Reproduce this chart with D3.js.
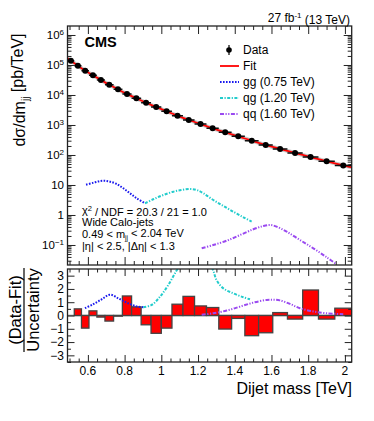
<!DOCTYPE html>
<html><head><meta charset="utf-8">
<script src="https://cdn.jsdelivr.net/npm/d3@7"></script>
<style>
body{margin:0;background:#fff}
svg{display:block}
text{font-family:"Liberation Sans",Arial,Helvetica,sans-serif;fill:#000}
</style>
</head><body>
<svg id="chart" width="374" height="421"></svg>
<script>
// ---------------- DATA ----------------
const binEdges = [0.489,0.526,0.565,0.606,0.649,0.693,0.740,0.788,0.838,0.890,0.944,1.000,1.058,1.118,1.181,1.246,1.313,1.383,1.455,1.530,1.607,1.687,1.770,1.856,1.945,2.037];
const dataValues = [139000,95000,64600,45400,31600,22000,15500,10800,7760,5540,3980,2860,2040,1470,1080,776,571,420,300,215,158,117,86,62,45];
// fit evaluated at the bin edges
const fitValues = [168000,115000,78200,54100,37900,26400,18500,12900,9150,6550,4690,3380,2420,1730,1260,915,665,490,355,254,185,136,100,72.6,52.8,38.9];
// (Data-Fit)/Uncertainty for bins 2..25
const residuals = [0.5,-0.95,0.35,-0.12,-0.42,-0.05,1.47,0.65,-0.7,-1.34,-0.95,0.85,1.44,0.72,0.6,-1.02,-0.22,-1.52,-1.3,0.22,-0.27,1.92,-0.27,0.55];

const ggTopMass = [0.590,0.630,0.667,0.694,0.721,0.757,0.793,0.830,0.866,0.911];
const ggTopValues = [10.2,11.9,13.5,13.8,12.9,10.8,7.76,5.25,3.6,2.45];
const qgTopMass = [0.911,0.956,1.011,1.065,1.111,1.156,1.193,1.229,1.283,1.338,1.392,1.447,1.492];
const qgTopValues = [2.45,3.34,4.64,5.98,6.81,7.36,6.81,5.28,3.16,2.0,1.29,0.84,0.6];
const qqTopMass = [1.220,1.283,1.356,1.429,1.501,1.555,1.592,1.628,1.683,1.755,1.828,1.901,1.955];
const qqTopValues = [0.0776,0.1,0.139,0.215,0.334,0.43,0.464,0.41,0.278,0.147,0.0776,0.0389,0.0227];

const ggRatioMass = [0.584,0.629,0.675,0.720,0.766,0.811,0.857,0.902];
const ggRatioValues = [0.55,0.85,1.22,1.57,1.29,0.97,0.72,0.62];
const qgRatioMass = [0.902,0.948,0.993,1.038,1.084,1.13,1.18,1.23,1.279,1.301,1.338,1.392,1.447,1.483];
const qgRatioValues = [0.62,0.8,1.42,2.29,3.4,4.3,4.7,4.4,3.5,2.66,2.04,1.67,1.37,1.22];
const qqRatioMass = [1.220,1.283,1.356,1.429,1.501,1.574,1.610,1.646,1.701,1.755,1.828,1.901,1.991];
const qqRatioValues = [0.05,0.17,0.37,0.67,0.97,1.17,1.19,1.14,0.87,0.55,0.3,0.17,0.1];

const xTickValues = [0.6,0.8,1.0,1.2,1.4,1.6,1.8,2.0];
const xTickLabels = ["0.6","0.8","1","1.2","1.4","1.6","1.8","2"];
const yTopExponents = [-1,0,1,2,3,4,5,6];
const yBotTicks = [-3,-2,-1,0,1,2,3];

const legendLabels = ["Data","Fit","gg (0.75 TeV)","qg (1.20 TeV)","qq (1.60 TeV)"];

// ---------------- LAYOUT ----------------
const L = 67.5, R = 351.7;
const topT = 26, topB = 265;
const botT = 269, botB = 362;
const col = {gg:"#1a1aee", qg:"#22cccc", qq:"#9a4af0", fit:"#ff0000"};
const dash = {gg:"1.6,1.4", qg:"3,1.5,1.2,1.5", qq:"4,1.5,1.2,1.5,1.2,1.5"};

const svg = d3.select("#chart");
const x = d3.scaleLinear().domain([0.489, 2.037]).range([L, R]);
const yT = d3.scaleLog().domain([Math.pow(10,-1.667), Math.pow(10,6.3)]).range([topB, topT]);
const yB = d3.scaleLinear().domain([-3.5, 3.5]).range([botB, botT]);

svg.append("defs").append("clipPath").attr("id","clipTop")
  .append("rect").attr("x",L).attr("y",topT).attr("width",R-L).attr("height",topB-topT);
svg.select("defs").append("clipPath").attr("id","clipBot")
  .append("rect").attr("x",L).attr("y",botT).attr("width",R-L).attr("height",botB-botT);

// ---------- axes helpers ----------
function xMinor(){ const a=[]; for(let v=0.5; v<=2.03; v+=0.05){ const r=Math.round(v*100)/100; if(!xTickValues.some(t=>Math.abs(t-r)<1e-6)) a.push(r);} return a; }
function logMinor(){ const a=[]; for(let k=-2;k<=6;k++) for(let m=2;m<=9;m++){ const v=m*Math.pow(10,k); if(v>yT.domain()[0] && v<yT.domain()[1]) a.push(v);} return a; }

function drawXTicks(yPos, dir, major, minor){
  const gM = svg.append("g").attr("transform",`translate(0,${yPos})`)
    .call((dir<0?d3.axisBottom(x):d3.axisTop(x)).tickValues(xTickValues).tickSize(-major).tickFormat(""));
  const gm = svg.append("g").attr("transform",`translate(0,${yPos})`)
    .call((dir<0?d3.axisBottom(x):d3.axisTop(x)).tickValues(xMinor()).tickSize(-minor).tickFormat(""));
  [gM,gm].forEach(g=>{g.select(".domain").remove(); g.selectAll("line").attr("stroke","#222").attr("stroke-width",1);});
}
function drawYTicks(xPos, scale, left, majors, minors, majLen, minLen){
  const ax = left ? d3.axisLeft : d3.axisRight;
  const gM = svg.append("g").attr("transform",`translate(${xPos},0)`)
    .call(ax(scale).tickValues(majors).tickSize(-majLen).tickFormat(""));
  const gm = svg.append("g").attr("transform",`translate(${xPos},0)`)
    .call(ax(scale).tickValues(minors).tickSize(-minLen).tickFormat(""));
  [gM,gm].forEach(g=>{g.select(".domain").remove(); g.selectAll("line").attr("stroke","#222").attr("stroke-width",1);});
  return gM;
}

// ---------------- TOP PANEL ----------------
const topMajors = yTopExponents.map(e=>Math.pow(10,e));
drawYTicks(L, yT, true, topMajors, logMinor(), 8, 4);
drawYTicks(R, yT, false, topMajors, logMinor(), 8, 4);
drawXTicks(topT, 1, 8, 4);
drawXTicks(topB, -1, 8, 4);

yTopExponents.forEach(e=>{
  const t = svg.append("text").attr("x", 64).attr("y", yT(Math.pow(10,e))).attr("dy","0.36em")
    .attr("text-anchor","end").style("font-size","11.5px");
  if(e===0) t.text("1");
  else if(e===1) t.text("10");
  else { t.append("tspan").text("10"); t.append("tspan").attr("dy","-0.55em").style("font-size","8px").text(e<0?"\u2212"+(-e):String(e)); }
});

const gTop = svg.append("g").attr("clip-path","url(#clipTop)");
gTop.append("path").datum(binEdges.map((m,i)=>[m,fitValues[i]]))
  .attr("fill","none").attr("stroke","#bbb").attr("stroke-width",4).attr("opacity",0.8)
  .attr("d", d3.line().x(d=>x(d[0])).y(d=>yT(d[1])).curve(d3.curveMonotoneX));
gTop.append("path").datum(binEdges.map((m,i)=>[m,fitValues[i]]))
  .attr("fill","none").attr("stroke",col.fit).attr("stroke-width",1.8)
  .attr("d", d3.line().x(d=>x(d[0])).y(d=>yT(d[1])).curve(d3.curveMonotoneX));

function sigLine(g, mass, vals, ys, c, da){
  g.append("path").datum(mass.map((m,i)=>[m,vals[i]]))
    .attr("fill","none").attr("stroke",c).attr("stroke-width",2).attr("stroke-dasharray",da)
    .attr("d", d3.line().x(d=>x(d[0])).y(d=>ys(d[1])).curve(d3.curveCatmullRom));
}
sigLine(gTop, ggTopMass, ggTopValues, yT, col.gg, dash.gg);
sigLine(gTop, qgTopMass, qgTopValues, yT, col.qg, dash.qg);
sigLine(gTop, qqTopMass, qqTopValues, yT, col.qq, dash.qq);

const centers = dataValues.map((v,i)=>({lo:binEdges[i],hi:binEdges[i+1],c:(binEdges[i]+binEdges[i+1])/2,v}));
gTop.selectAll(".hbar").data(centers).enter().append("line")
  .attr("x1",d=>x(d.lo)).attr("x2",d=>x(d.hi)).attr("y1",d=>yT(d.v)).attr("y2",d=>yT(d.v))
  .attr("stroke","#111").attr("stroke-width",1.5);
gTop.selectAll(".pt").data(centers).enter().append("circle")
  .attr("cx",d=>x(d.c)).attr("cy",d=>yT(d.v)).attr("r",3).attr("fill","#000");

svg.append("rect").attr("x",L).attr("y",topT).attr("width",R-L).attr("height",topB-topT)
  .attr("fill","none").attr("stroke","#222").attr("stroke-width",1.3);

svg.append("text").attr("x",350).attr("y",21.5).attr("text-anchor","end").style("font-size","12px")
  .call(t=>{t.append("tspan").text("27 fb"); t.append("tspan").attr("dy","-0.5em").style("font-size","8px").text("-1");
           t.append("tspan").attr("dy","0.5em").text(" (13 TeV)");});
svg.append("text").attr("x",84.5).attr("y",46.5).style("font-size","14.5px").style("font-weight","bold").text("CMS");

const legY = [50,66,82,98,114];
svg.append("line").attr("x1",229).attr("x2",229).attr("y1",legY[0]-5).attr("y2",legY[0]+5).attr("stroke","#000").attr("stroke-width",1.2);
svg.append("circle").attr("cx",229).attr("cy",legY[0]).attr("r",2.8).attr("fill","#000");
svg.append("line").attr("x1",220).attr("x2",239).attr("y1",legY[1]).attr("y2",legY[1]).attr("stroke",col.fit).attr("stroke-width",1.8);
[["gg",2],["qg",3],["qq",4]].forEach(([k,i])=>{
  svg.append("line").attr("x1",220).attr("x2",239).attr("y1",legY[i]).attr("y2",legY[i])
    .attr("stroke",col[k]).attr("stroke-width",2).attr("stroke-dasharray",dash[k]);
});
legendLabels.forEach((s,i)=>{
  svg.append("text").attr("x",243).attr("y",legY[i]).attr("dy","0.36em").style("font-size","12px").text(s);
});

const annY = [210.5,222.5,234.5,246.5];
svg.append("text").attr("x",82).attr("y",annY[0]).attr("dy","0.36em").style("font-size","11px")
  .call(t=>{t.append("tspan").text("\u03C7"); t.append("tspan").attr("dy","-0.45em").style("font-size","7.5px").text("2");
           t.append("tspan").attr("dy","0.45em").text(" / NDF = 20.3 / 21 = 1.0");});
svg.append("text").attr("x",82).attr("y",annY[1]).attr("dy","0.36em").style("font-size","11px").text("Wide Calo-jets");
svg.append("text").attr("x",82).attr("y",annY[2]).attr("dy","0.36em").style("font-size","11px")
  .call(t=>{t.append("tspan").text("0.49 < m"); t.append("tspan").attr("dy","0.3em").style("font-size","6.5px").text("jj");
           t.append("tspan").attr("dy","-0.3em").text(" < 2.04 TeV");});
svg.append("text").attr("x",82).attr("y",annY[3]).attr("dy","0.36em").style("font-size","11px").text("|\u03B7| < 2.5, |\u0394\u03B7| < 1.3");

svg.append("text").attr("transform","translate(25,90) rotate(-90)").attr("text-anchor","middle").style("font-size","16px")
  .call(t=>{t.append("tspan").text("d\u03C3/dm"); t.append("tspan").attr("dy","0.4em").style("font-size","10px").text("jj");
           t.append("tspan").attr("dy","-0.4em").text(" [pb/TeV]");});

// ---------------- BOTTOM PANEL ----------------
const gBot = svg.append("g").attr("clip-path","url(#clipBot)");
gBot.append("line").attr("x1",L).attr("x2",R).attr("y1",yB(0)).attr("y2",yB(0)).attr("stroke","#888").attr("stroke-width",1.5);
const resBins = residuals.map((v,i)=>({lo:binEdges[i+1],hi:binEdges[i+2],v}));
gBot.selectAll(".rb").data(resBins).enter().append("rect")
  .attr("x",d=>x(d.lo)).attr("width",d=>x(d.hi)-x(d.lo))
  .attr("y",d=>yB(Math.max(0,d.v))).attr("height",d=>Math.abs(yB(d.v)-yB(0)))
  .attr("fill","#ff0000").attr("stroke","#444").attr("stroke-width",1.3);
sigLine(gBot, ggRatioMass, ggRatioValues, yB, col.gg, dash.gg);
sigLine(gBot, qgRatioMass, qgRatioValues, yB, col.qg, dash.qg);
sigLine(gBot, qqRatioMass, qqRatioValues, yB, col.qq, dash.qq);

const botMinor = [-3.5,-2.5,-1.5,-0.5,0.5,1.5,2.5];
drawYTicks(L, yB, true, yBotTicks, botMinor, 7, 3.5);
drawYTicks(R, yB, false, yBotTicks, botMinor, 7, 3.5);
drawXTicks(botT, 1, 7, 3.5);
drawXTicks(botB, -1, 7, 3.5);
svg.append("rect").attr("x",L).attr("y",botT).attr("width",R-L).attr("height",botB-botT)
  .attr("fill","none").attr("stroke","#222").attr("stroke-width",1.3);

yBotTicks.forEach(v=>{
  svg.append("text").attr("x",64).attr("y",yB(v)).attr("dy","0.36em").attr("text-anchor","end")
    .style("font-size","12px").text(v<0?"\u2212"+(-v):String(v));
});
xTickValues.forEach((v,i)=>{
  svg.append("text").attr("x",x(v)).attr("y",375).attr("text-anchor","middle").style("font-size","12px").text(xTickLabels[i]);
});
svg.append("text").attr("x",352).attr("y",394).attr("text-anchor","end").style("font-size","16px").text("Dijet mass [TeV]");

svg.append("text").attr("transform","translate(20.5,310) rotate(-90)").attr("text-anchor","middle").style("font-size","16.5px").text("(Data-Fit)");
svg.append("line").attr("x1",24).attr("x2",24).attr("y1",268).attr("y2",352).attr("stroke","#000").attr("stroke-width",1.2);
svg.append("text").attr("transform","translate(38.5,310) rotate(-90)").attr("text-anchor","middle").style("font-size","16.5px").text("Uncertainty");
</script>
</body></html>
